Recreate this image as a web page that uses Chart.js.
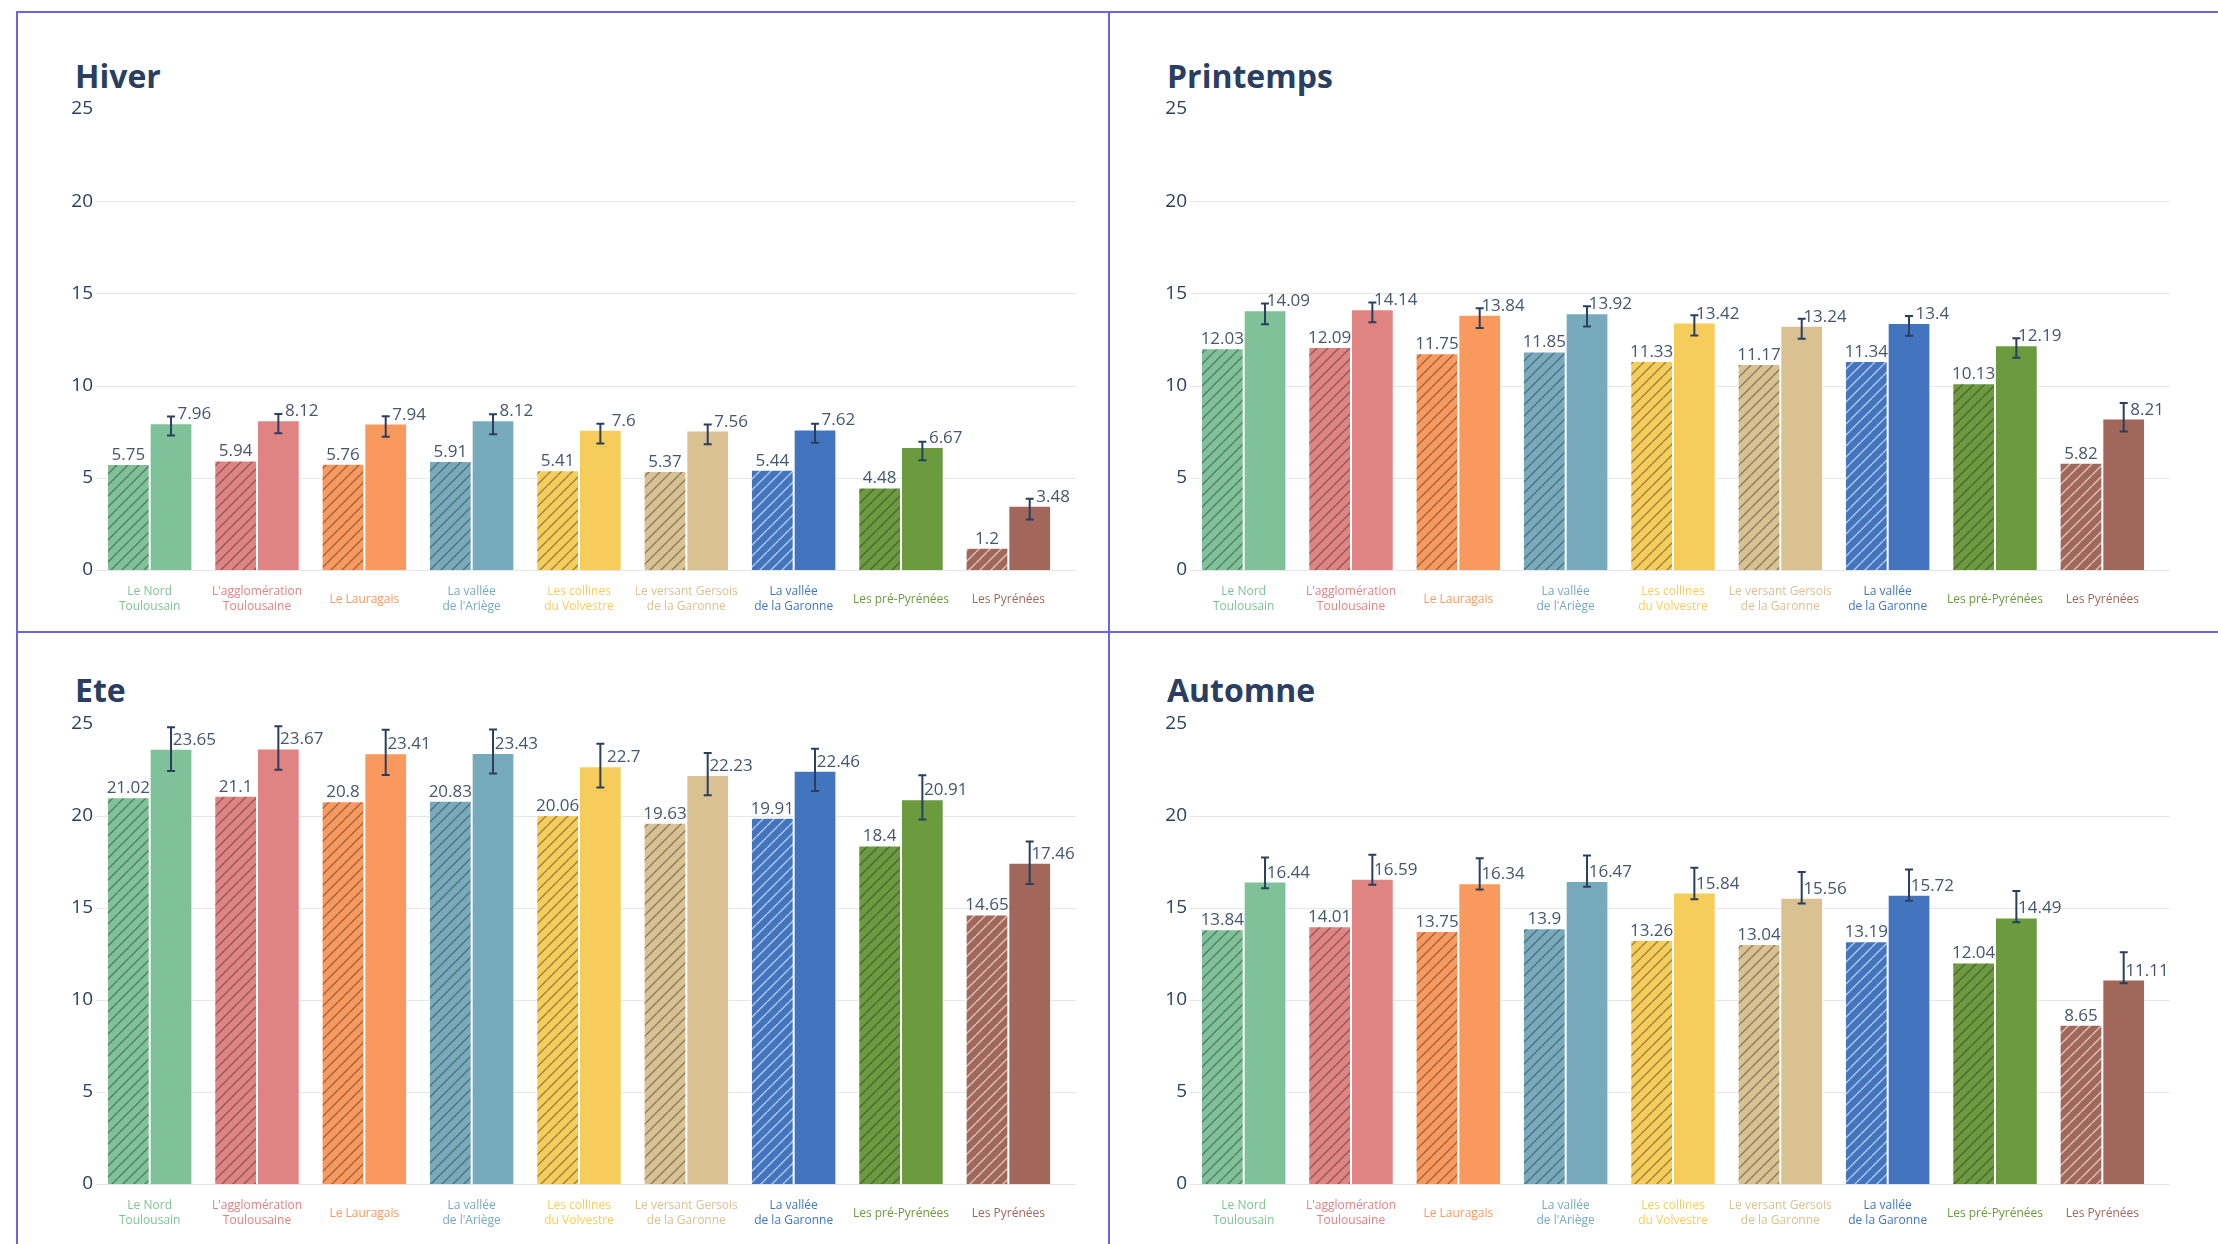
<!DOCTYPE html>
<html>
<head>
<meta charset="utf-8">
<script src="https://cdn.jsdelivr.net/npm/chart.js@4.4.1/dist/chart.umd.min.js"></script>
<style>
  html, body { margin: 0; padding: 0; background: #fff; }
  body { width: 2218px; height: 1244px; position: relative; overflow: hidden; font-family: 'Open Sans', sans-serif; }
  .line { position: absolute; background: #6a66d9; }
  .title { position: absolute; font: bold 32px/32px 'Open Sans', sans-serif; color: #2a3f5f; white-space: nowrap; }
  canvas { position: absolute; }
</style>
</head>
<body>
<div class="line" style="left:16px;top:11px;width:2202px;height:2px"></div>
<div class="line" style="left:16px;top:631px;width:2202px;height:2px"></div>
<div class="line" style="left:16px;top:11px;width:2px;height:1233px"></div>
<div class="line" style="left:1108px;top:11px;width:2px;height:1233px"></div>

<div class="title" style="left:75px;top:60px">Hiver</div>
<div class="title" style="left:1167px;top:60px">Printemps</div>
<div class="title" style="left:75px;top:674px">Ete</div>
<div class="title" style="left:1167px;top:674px">Automne</div>

<canvas id="c0" width="1060" height="540" style="left:30px;top:90px"></canvas>
<canvas id="c1" width="1060" height="540" style="left:1124px;top:90px"></canvas>
<canvas id="c2" width="1060" height="539" style="left:30px;top:705px"></canvas>
<canvas id="c3" width="1060" height="539" style="left:1124px;top:705px"></canvas>

<script>
// zones (categories)
const categories = [
    ['Le Nord', 'Toulousain'],
    ["L'agglomération", 'Toulousaine'],
    'Le Lauragais',
    ['La vallée', "de l'Ariège"],
    ['Les collines', 'du Volvestre'],
    ['Le versant Gersois', 'de la Garonne'],
    ['La vallée', 'de la Garonne'],
    'Les pré-Pyrénées',
    'Les Pyrénées'
];
const zoneColors = ['#7fc198', '#e08383', '#f9995d', '#78aabd', '#f6cd5b', '#d9c192', '#4275bd', '#6c9a3e', '#a0675a'];
const hatchInk   = ['dark', 'dark', 'dark', 'dark', 'dark', 'dark', 'light', 'dark', 'light'];

const seasons = ['Hiver', 'Printemps', 'Ete', 'Automne'];
const yTicks  = [0, 5, 10, 15, 20, 25];

// Hiver
const hiverHatched   = [5.75, 5.94, 5.76, 5.91, 5.41, 5.37, 5.44, 4.48, 1.2];
const hiverSolid     = [7.96, 8.12, 7.94, 8.12, 7.6, 7.56, 7.62, 6.67, 3.48];
const hiverErrPlus   = [0.36, 0.34, 0.40, 0.33, 0.33, 0.33, 0.31, 0.29, 0.39];
const hiverErrMinus  = [0.67, 0.70, 0.72, 0.76, 0.74, 0.74, 0.72, 0.72, 0.74];
// Printemps
const printHatched   = [12.03, 12.09, 11.75, 11.85, 11.33, 11.17, 11.34, 10.13, 5.82];
const printSolid     = [14.09, 14.14, 13.84, 13.92, 13.42, 13.24, 13.4, 12.19, 8.21];
const printErrPlus   = [0.36, 0.36, 0.36, 0.38, 0.40, 0.38, 0.38, 0.38, 0.85];
const printErrMinus  = [0.76, 0.71, 0.72, 0.71, 0.70, 0.70, 0.70, 0.68, 0.70];
// Ete
const eteHatched     = [21.02, 21.1, 20.8, 20.83, 20.06, 19.63, 19.91, 18.4, 14.65];
const eteSolid       = [23.65, 23.67, 23.41, 23.43, 22.7, 22.23, 22.46, 20.91, 17.46];
const eteErrPlus     = [1.18, 1.21, 1.28, 1.27, 1.23, 1.20, 1.20, 1.30, 1.15];
const eteErrMinus    = [1.21, 1.16, 1.18, 1.12, 1.15, 1.10, 1.10, 1.10, 1.15];
// Automne
const autHatched     = [13.84, 14.01, 13.75, 13.9, 13.26, 13.04, 13.19, 12.04, 8.65];
const autSolid       = [16.44, 16.59, 16.34, 16.47, 15.84, 15.56, 15.72, 14.49, 11.11];
const autErrPlus     = [1.30, 1.30, 1.36, 1.39, 1.35, 1.39, 1.37, 1.44, 1.48];
const autErrMinus    = [0.36, 0.33, 0.33, 0.31, 0.36, 0.31, 0.32, 0.27, 0.20];

const panels = [
    { id: 'c0', hatched: hiverHatched, solid: hiverSolid, plus: hiverErrPlus, minus: hiverErrMinus },
    { id: 'c1', hatched: printHatched, solid: printSolid, plus: printErrPlus, minus: printErrMinus },
    { id: 'c2', hatched: eteHatched,   solid: eteSolid,   plus: eteErrPlus,   minus: eteErrMinus },
    { id: 'c3', hatched: autHatched,   solid: autSolid,   plus: autErrPlus,   minus: autErrMinus }
];

const textColor = '#2a3f5f';
const gridColor = '#e6e6e6';

Chart.defaults.font.family = "'Open Sans', sans-serif";
Chart.defaults.animation = false;

function makeHatch(color, ink) {
    const s = 11;
    const tile = document.createElement('canvas');
    tile.width = s; tile.height = s;
    const g = tile.getContext('2d');
    g.fillStyle = color;
    g.fillRect(0, 0, s, s);
    g.strokeStyle = ink === 'light' ? 'rgba(255,255,255,0.6)' : 'rgba(40,40,40,0.45)';
    g.lineWidth = 1.4;
    for (let k = -1; k <= 1; k++) {
        g.beginPath();
        g.moveTo(k * s, s);
        g.lineTo(k * s + s, 0);
        g.stroke();
    }
    return g.createPattern(tile, 'repeat');
}

const hatches = zoneColors.map((c, i) => makeHatch(c, hatchInk[i]));

// horizontal grid, running a little past the last category like the original
const gridPlugin = {
    id: 'seasonGrid',
    beforeDatasetsDraw(chart) {
        const ctx = chart.ctx;
        const y = chart.scales.y;
        const a = chart.chartArea;
        ctx.save();
        ctx.strokeStyle = gridColor;
        ctx.lineWidth = 1;
        yTicks.filter(v => v < 25).forEach(v => {
            const py = Math.round(y.getPixelForValue(v)) + 0.5;
            ctx.beginPath();
            ctx.moveTo(a.left, py);
            ctx.lineTo(a.right + 14, py);
            ctx.stroke();
        });
        ctx.restore();
    }
};

// error bars on solid bars + value labels
const marksPlugin = {
    id: 'seasonMarks',
    afterDatasetsDraw(chart, args, opts) {
        const ctx = chart.ctx;
        const y = chart.scales.y;
        const metaH = chart.getDatasetMeta(0);
        const metaS = chart.getDatasetMeta(1);
        const dsH = chart.data.datasets[0].data;
        const dsS = chart.data.datasets[1].data;
        ctx.save();

        ctx.strokeStyle = textColor;
        ctx.lineWidth = 2;
        metaS.data.forEach((bar, i) => {
            const top = y.getPixelForValue(dsS[i] + opts.plus[i]);
            const bot = y.getPixelForValue(dsS[i] - opts.minus[i]);
            ctx.beginPath();
            ctx.moveTo(bar.x, top); ctx.lineTo(bar.x, bot);
            ctx.moveTo(bar.x - 4, top); ctx.lineTo(bar.x + 4, top);
            ctx.moveTo(bar.x - 4, bot); ctx.lineTo(bar.x + 4, bot);
            ctx.stroke();
        });

        ctx.font = "17px 'Open Sans', sans-serif";
        ctx.fillStyle = '#46566f';
        ctx.textAlign = 'center';
        ctx.textBaseline = 'alphabetic';
        metaH.data.forEach((bar, i) => {
            ctx.fillText(String(dsH[i]), bar.x, bar.y - 4);
        });
        metaS.data.forEach((bar, i) => {
            ctx.fillText(String(dsS[i]), bar.x + bar.width / 2 + 2, bar.y - 4);
        });
        ctx.restore();
    }
};

panels.forEach(p => {
    const canvas = document.getElementById(p.id);
    new Chart(canvas, {
        type: 'bar',
        data: {
            labels: categories,
            datasets: [
                {
                    data: p.hatched,
                    backgroundColor: hatches,
                    borderColor: 'rgba(255,255,255,0.85)',
                    borderWidth: 1,
                    borderSkipped: 'bottom'
                },
                {
                    data: p.solid,
                    backgroundColor: zoneColors,
                    borderColor: 'rgba(255,255,255,0.85)',
                    borderWidth: 1,
                    borderSkipped: 'bottom'
                }
            ]
        },
        options: {
            responsive: false,
            devicePixelRatio: 1,
            animation: false,
            layout: { padding: { top: 19, right: 28, left: 0, bottom: 0 } },
            datasets: { bar: { categoryPercentage: 0.796, barPercentage: 1.0 } },
            plugins: {
                legend: { display: false },
                tooltip: { enabled: false },
                seasonMarks: { plus: p.plus, minus: p.minus }
            },
            scales: {
                x: {
                    grid: { display: false },
                    border: { display: false },
                    ticks: {
                        color: zoneColors,
                        font: { size: 12, lineHeight: 1.25 },
                        padding: 14,
                        maxRotation: 0,
                        autoSkip: false,
                        crossAlign: 'center'
                    },
                    afterFit: s => { s.height = 60; }
                },
                y: {
                    min: 0,
                    max: 25,
                    border: { display: false },
                    grid: { display: false, drawTicks: false },
                    ticks: {
                        stepSize: 5,
                        color: textColor,
                        font: { size: 19 },
                        padding: 3
                    },
                    afterBuildTicks: s => { s.ticks = yTicks.map(v => ({ value: v })); },
                    afterFit: s => { s.width = 66; }
                }
            }
        },
        plugins: [gridPlugin, marksPlugin]
    });
});
</script>
</body>
</html>
